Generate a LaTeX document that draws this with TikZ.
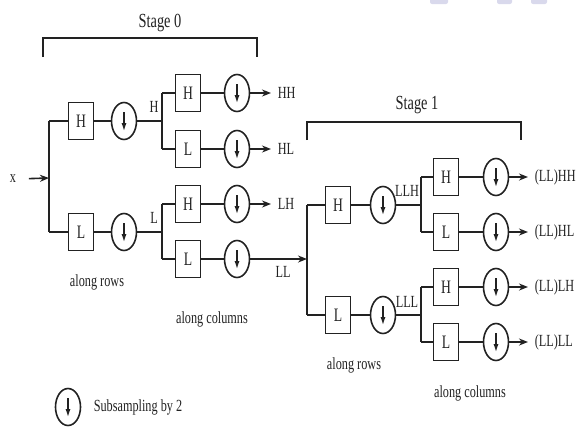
\documentclass[tikz,border=0pt]{standalone}
\usepackage{fontspec}
\setmainfont{Liberation Serif}[FakeStretch=0.72]
\usetikzlibrary{arrows.meta,shapes.geometric}
\definecolor{blob}{HTML}{D9D9EC}
\definecolor{ink}{HTML}{222222}
\begin{document}
\begin{tikzpicture}[x=1pt,y=-1pt,line width=1.6pt,draw=ink,text=ink,
  filt/.style={draw,rectangle,minimum width=25pt,minimum height=37pt,inner sep=0pt,
    font=\fontsize{19}{19}\selectfont},
  sub/.style={draw,ellipse,minimum width=25pt,minimum height=37pt,inner sep=0pt,
    path picture={\draw[line width=1.8pt,-{Latex[length=9pt,width=5pt]}]
      ([yshift=9pt]path picture bounding box.center) --
      ([yshift=-11pt]path picture bounding box.center);}},
  arr/.style={-{Stealth[length=9pt,width=7pt]}},
  lbl/.style={font=\fontsize{17}{17}\selectfont,inner sep=0pt},
  stg/.style={font=\fontsize{20}{20}\selectfont,inner sep=0pt}]
\useasboundingbox (0,0) rectangle (576,426);
% faint blobs at the top edge
\fill[blob,rounded corners=2pt] (430,-3) rectangle (448,4);
\fill[blob,rounded corners=2pt] (497,-3) rectangle (512,4);
\fill[blob,rounded corners=2pt] (531,-3) rectangle (547,4);

% ---------- Stage 0 ----------
\node[stg] (t0) at (160,23) {Stage 0};
\coordinate (b0a) at (43,57);
\coordinate (b0c) at (257,38);
\coordinate (b0d) at (257,57);
\draw (b0a) |- (b0c) -- (b0d);

\node[lbl] (x) at (13,179) {x};
\coordinate (v0) at (49,178);
\coordinate (v0t) at (49,121);
\coordinate (v0b) at (49,232);
\draw[arr,shorten <=12pt] (x.east) -- (v0);
\draw (v0t) -- (v0b);

\node[filt] (h1) at (81,121) {H};
\node[sub] (c1) at (124,121) {};
\node[filt] (l1) at (81,232) {L};
\node[sub] (c2) at (124,232) {};
\draw (v0t) -- (h1); \draw (h1) -- (c1);
\draw (v0b) -- (l1); \draw (l1) -- (c2);

\coordinate (j1) at (162,121);
\coordinate (j1t) at (162,93);
\coordinate (j1b) at (162,149);
\coordinate (j2) at (162,232);
\coordinate (j2t) at (162,204);
\coordinate (j2b) at (162,259);
\draw (c1) -- (j1); \draw (j1t) -- (j1b);
\draw (c2) -- (j2); \draw (j2t) -- (j2b);
\node[lbl] (lh) at (154,107) {H};
\node[lbl] (ll) at (154,218) {L};

\node[filt] (hh) at (188,93) {H};
\node[filt] (hl) at (188,149) {L};
\node[filt] (lhb) at (188,204) {H};
\node[filt] (llb) at (188,259) {L};
\node[sub] (chh) at (237,93) {};
\node[sub] (chl) at (237,149) {};
\node[sub] (clh) at (237,204) {};
\node[sub] (cll) at (237,259) {};
\draw (j1t) -- (hh); \draw (hh) -- (chh);
\draw (j1b) -- (hl); \draw (hl) -- (chl);
\draw (j2t) -- (lhb); \draw (lhb) -- (clh);
\draw (j2b) -- (llb); \draw (llb) -- (cll);

\node[lbl,anchor=west] (ohh) at (277,93) {HH};
\node[lbl,anchor=west] (ohl) at (277,149) {HL};
\node[lbl,anchor=west] (olh) at (277,204) {LH};
\draw[arr,shorten >=6pt] (chh) -- (ohh.west);
\draw[arr,shorten >=6pt] (chl) -- (ohl.west);
\draw[arr,shorten >=6pt] (clh) -- (olh.west);

\coordinate (v1m) at (307,259);
\draw[arr] (cll) -- (v1m);
\node[lbl] (oll) at (283,272) {LL};

\node[lbl] (ar0) at (97,282) {along rows};
\node[lbl] (ac0) at (212,319) {along columns};

% ---------- Stage 1 ----------
\node[stg] (t1) at (417,105) {Stage 1};
\coordinate (b1a) at (307,140);
\coordinate (b1c) at (521,122);
\coordinate (b1d) at (521,140);
\draw (b1a) |- (b1c) -- (b1d);

\coordinate (v1t) at (307,205);
\coordinate (v1b) at (307,315);
\draw (v1t) -- (v1b);

\node[filt] (h2) at (338,205) {H};
\node[sub] (c3) at (383,205) {};
\node[filt] (l2) at (338,315) {L};
\node[sub] (c4) at (383,315) {};
\draw (v1t) -- (h2); \draw (h2) -- (c3);
\draw (v1b) -- (l2); \draw (l2) -- (c4);

\coordinate (k1) at (421,205);
\coordinate (k1t) at (421,177);
\coordinate (k1b) at (421,232);
\coordinate (k2) at (421,315);
\coordinate (k2t) at (421,287);
\coordinate (k2b) at (421,342);
\draw (c3) -- (k1); \draw (k1t) -- (k1b);
\draw (c4) -- (k2); \draw (k2t) -- (k2b);
\node[lbl] (llh) at (407,191) {LLH};
\node[lbl] (lll) at (407,302) {LLL};

\node[filt] (s1) at (446,177) {H};
\node[filt] (s2) at (446,232) {L};
\node[filt] (s3) at (446,287) {H};
\node[filt] (s4) at (446,342) {L};
\node[sub] (d1) at (496,177) {};
\node[sub] (d2) at (496,232) {};
\node[sub] (d3) at (496,287) {};
\node[sub] (d4) at (496,342) {};
\draw (k1t) -- (s1); \draw (s1) -- (d1);
\draw (k1b) -- (s2); \draw (s2) -- (d2);
\draw (k2t) -- (s3); \draw (s3) -- (d3);
\draw (k2b) -- (s4); \draw (s4) -- (d4);

\node[lbl,anchor=west] (o1) at (534,177) {(LL)HH};
\node[lbl,anchor=west] (o2) at (534,232) {(LL)HL};
\node[lbl,anchor=west] (o3) at (534,287) {(LL)LH};
\node[lbl,anchor=west] (o4) at (534,342) {(LL)LL};
\draw[arr,shorten >=6pt] (d1) -- (o1.west);
\draw[arr,shorten >=6pt] (d2) -- (o2.west);
\draw[arr,shorten >=6pt] (d3) -- (o3.west);
\draw[arr,shorten >=6pt] (d4) -- (o4.west);

\node[lbl] (ar1) at (354,365) {along rows};
\node[lbl] (ac1) at (470,393) {along columns};

% ---------- legend ----------
\node[sub] (leg) at (68,407) {};
\node[lbl,anchor=west] (legt) at (93,407) {Subsampling by 2};
\end{tikzpicture}
\end{document}
